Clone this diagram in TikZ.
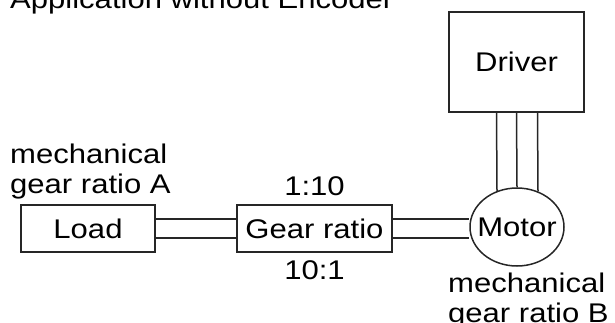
\documentclass[tikz,border=0pt]{standalone}
\usepackage{fontspec}
\setmainfont[FakeStretch=1.15]{Liberation Sans}
\usetikzlibrary{positioning,shapes.geometric}

\begin{document}
\begin{tikzpicture}[
  x=1pt, y=-1pt,
  font=\fontsize{27}{30}\selectfont,
  block/.style={draw=black!85, line width=1.5pt, inner sep=0pt, align=center},
  shaft/.style={draw=black!85, line width=1.5pt},
  note/.style={inner sep=0pt, align=left}
]
\clip (0,0) rectangle (615,322);

\node[note, anchor=base west] (title) at (10,8) {Application without Encoder};

\node[block, minimum width=135pt, minimum height=100pt] (driver) at (516.5,62) {Driver};
\node[block, minimum width=134pt, minimum height=47pt] (load) at (88,228.5) {Load};
\node[block, minimum width=155pt, minimum height=47pt] (gear) at (314.5,228.5) {Gear ratio};
\node[block, ellipse, minimum width=94pt, minimum height=78pt, label={center:Motor}] (motor) at (517,227) {};

\node[note, above=8pt of gear] (up) {1:10};
\node[note, below=8pt of gear] (down) {10:1};
\node[note, anchor=north west] (ratioA) at (10,144) {mechanical\\gear ratio A};
\node[note, anchor=north west] (ratioB) at (448,273) {mechanical\\gear ratio B};

% shafts
\foreach \dy in {-9.5,9.5} {
  \draw[shaft] ([yshift=\dy pt]load.east) -- ([yshift=\dy pt]gear.west);
  \draw[shaft] ([yshift=\dy pt]gear.east) -- ([yshift=\dy pt]gear.east -| motor.west);
}

% power wires
\foreach \dx/\dip in {-20/3.5, 0/0, 21/4} {
  \draw[shaft] ([xshift=\dx pt]driver.south) -- ([xshift=\dx pt, yshift=-\dip pt]motor.north);
}

\end{tikzpicture}
\end{document}
